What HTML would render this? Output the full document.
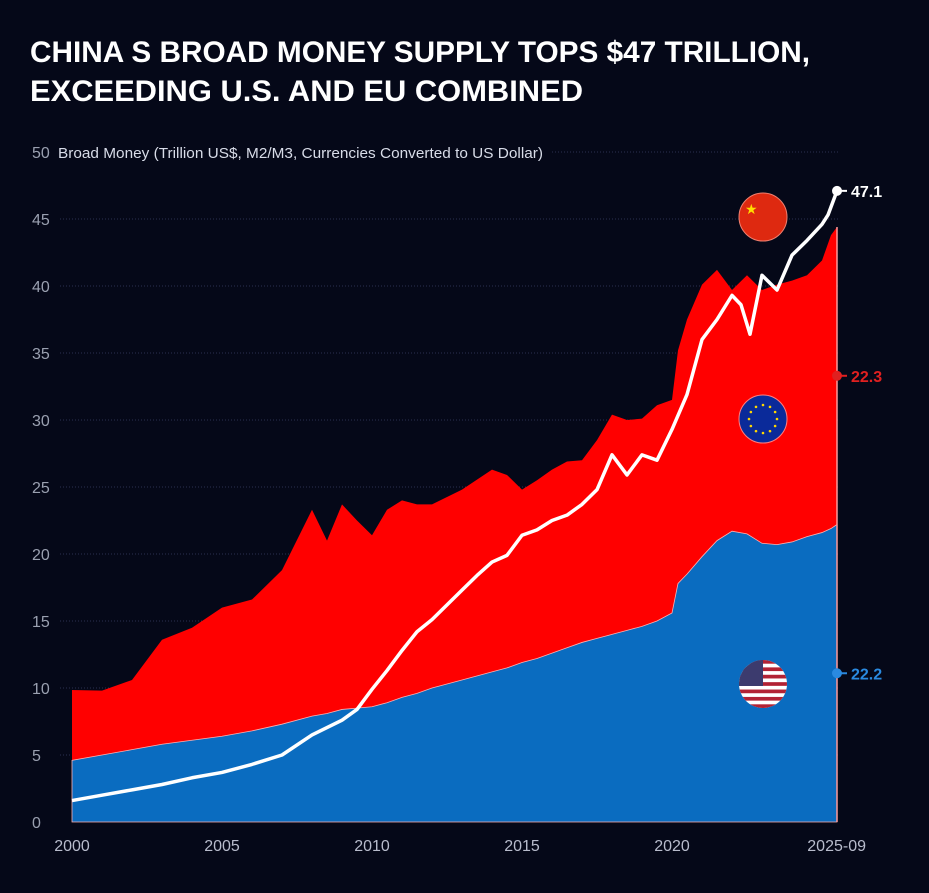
<!DOCTYPE html>
<html><head><meta charset="utf-8"><style>
html,body{margin:0;padding:0;background:#050818;}
svg{display:block;font-family:"Liberation Sans",sans-serif;}
</style></head><body>
<svg id="chart" width="929" height="893" viewBox="0 0 929 893">
<rect width="929" height="893" fill="#050818"/>
<text x="30" y="62" fill="#fff" font-size="30" font-weight="bold" textLength="780" lengthAdjust="spacingAndGlyphs">CHINA S BROAD MONEY SUPPLY TOPS $47 TRILLION,</text>
<text x="30" y="101" fill="#fff" font-size="30" font-weight="bold" textLength="553" lengthAdjust="spacingAndGlyphs">EXCEEDING U.S. AND EU COMBINED</text>
<g id="grid"></g><g id="areas"></g><g id="yt"></g><g id="xt"></g><g id="flags"></g><g id="marks"></g>
</svg>
<script>
const years=[2000,2001,2002,2003,2004,2005,2006,2007,2008,2008.5,2009,2009.5,2010,2010.5,2011,2011.5,2012,2013,2014,2014.5,2015,2015.5,2016,2016.5,2017,2017.5,2018,2018.5,2019,2019.5,2020,2020.2,2020.5,2021,2021.5,2022,2022.5,2023,2023.5,2024,2024.5,2025,2025.3,2025.5];
const usValues=[4.6,5.0,5.4,5.8,6.1,6.4,6.8,7.3,7.9,8.1,8.4,8.5,8.6,8.9,9.3,9.6,10.0,10.6,11.2,11.5,11.9,12.2,12.6,13.0,13.4,13.7,14.0,14.3,14.6,15.0,15.6,17.8,18.5,19.8,21.0,21.7,21.5,20.8,20.7,20.9,21.3,21.6,21.9,22.2];
const totalValues=[9.85,9.8,10.6,13.6,14.5,16,16.6,18.8,23.3,21,23.7,22.5,21.4,23.3,24,23.7,23.7,24.8,26.3,25.9,24.8,25.5,26.3,26.9,27,28.5,30.4,30,30.1,31.1,31.5,35.2,37.5,40.1,41.2,39.7,40.8,39.7,40.1,40.4,40.8,41.9,43.8,44.4];
const chinaYears=[2000,2001,2002,2003,2004,2005,2006,2007,2008,2009,2009.5,2010,2010.5,2011,2011.5,2012,2012.5,2013,2013.5,2014,2014.5,2015,2015.5,2016,2016.5,2017,2017.5,2018,2018.5,2019,2019.5,2020,2020.5,2021,2021.5,2022,2022.3,2022.6,2023,2023.5,2024,2024.5,2025,2025.2,2025.5];
const chinaValues=[1.6,2.0,2.4,2.8,3.3,3.7,4.3,5.0,6.5,7.6,8.4,9.9,11.3,12.8,14.2,15.1,16.2,17.3,18.4,19.4,19.9,21.4,21.8,22.5,22.9,23.7,24.8,27.4,25.9,27.4,27.0,29.3,31.9,36,37.5,39.3,38.6,36.4,40.8,39.7,42.3,43.4,44.6,45.3,47.1];
const yTicks=[0,5,10,15,20,25,30,35,40,45,50];
const xTickVals=[2000,2005,2010,2015,2020,2025.67];
const xTickLabels=["2000","2005","2010","2015","2020","2025-09"];
const endLabels=["47.1","22.3","22.2"];

const X=t=>72+30*(t-2000);
const Y=v=>822-13.4*v;
const NS="http://www.w3.org/2000/svg";
function mk(tag,attrs,parent){const e=document.createElementNS(NS,tag);for(const k in attrs)e.setAttribute(k,attrs[k]);document.getElementById(parent).appendChild(e);return e;}

yTicks.forEach((v,i)=>{
  if(v>0&&v<50){const g=mk('line',{x1:60,x2:838,y1:Y(v),y2:Y(v),stroke:'#2a3050','stroke-dasharray':'1 2'},'grid');
  
  }
  const t=mk('text',{x:32,y:Y(v)+6,fill:'#9aa0b0','font-size':16},'yt');t.textContent=v;
  
  
});
const h=mk('text',{x:58,y:Y(50)+6,fill:'#d8dce8','font-size':15,textLength:485,lengthAdjust:'spacingAndGlyphs'},'yt');h.textContent='Broad Money (Trillion US$, M2/M3, Currencies Converted to US Dollar)';


mk('line',{x1:552,x2:838,y1:Y(50),y2:Y(50),stroke:'#2a3050','stroke-dasharray':'1 2'},'grid');

xTickVals.forEach((v,i)=>{
  const t=mk('text',{x:X(v),y:851,fill:'#b8bccc','font-size':16,'text-anchor':i==5?'end':'middle'},'xt');
  if(i==5)t.setAttribute('x',866);
  t.textContent=xTickLabels[i];
  
  
});

const last=years[years.length-1];
let eu='M'+X(years[0])+','+Y(0);
years.forEach((t,i)=>eu+=' L'+X(t)+','+Y(totalValues[i]));
eu+=' L'+X(last)+','+Y(0)+'Z';
const ea=mk('path',{d:eu,fill:'#ff0000'},'areas');


let us='M'+X(years[0])+','+Y(0);
years.forEach((t,i)=>us+=' L'+X(t)+','+Y(usValues[i]));
us+=' L'+X(last)+','+Y(0)+'Z';
const ua=mk('path',{d:us,fill:'#0a6cc0',stroke:'#ffb0b0','stroke-width':0.8},'areas');


const edge=mk('line',{x1:X(last),x2:X(last),y1:Y(totalValues[totalValues.length-1]),y2:Y(0),stroke:'#ff9a9a','stroke-width':1.5},'areas');



let cp='';
chinaYears.forEach((t,i)=>cp+=(i?' L':'M')+X(t)+','+Y(chinaValues[i]));
const cl=mk('path',{d:cp,fill:'none',stroke:'#fff','stroke-width':3.5,'stroke-linejoin':'round'},'marks');



const ex=X(chinaYears[chinaYears.length-1]);
const ends=[[chinaValues[chinaValues.length-1],'#fff','china'],[totalValues[totalValues.length-1]/2+usValues[usValues.length-1]/2,'#e02020','eu'],[usValues[usValues.length-1]/2,'#2a8ae0','us']];
ends.forEach((e,i)=>{
  const yy=Y(e[0]);
  const c=mk('circle',{cx:ex,cy:yy,r:5,fill:e[1]},'marks');
  
  
  mk('line',{x1:ex,x2:ex+10,y1:yy,y2:yy,stroke:e[1],'stroke-width':2},'marks');
  const t=mk('text',{x:ex+14,y:yy+6,fill:e[1],'font-size':16,'font-weight':'bold'},'marks');
  t.textContent=endLabels[i];
  
  
});

const fc=mk('circle',{cx:763,cy:217,r:24,fill:'#de2910',stroke:'#f08070','stroke-width':1},'flags');


const st=mk('text',{x:745,y:214,fill:'#ffde00','font-size':14},'flags');st.textContent='★';
const ef=mk('circle',{cx:763,cy:419,r:24,fill:'#0a2a9a',stroke:'#ff8080','stroke-width':1},'flags');


for(let k=0;k<12;k++){const a=k*Math.PI/6;mk('circle',{cx:763+14*Math.cos(a),cy:419+14*Math.sin(a),r:1.3,fill:'#ffd700'},'flags');}
const uf=mk('circle',{cx:763,cy:684,r:24,fill:'#fff'},'flags');


mk('clipPath',{id:'uc'},'flags');
const cc=document.createElementNS(NS,'circle');cc.setAttribute('cx',763);cc.setAttribute('cy',684);cc.setAttribute('r',24);
document.getElementById('uc').appendChild(cc);
for(let k=0;k<7;k++){mk('rect',{x:739,y:660+k*48/6.5,width:48,height:3.7,fill:'#b22234','clip-path':'url(#uc)'},'flags');}
mk('rect',{x:739,y:660,width:24,height:26,fill:'#3c3b6e','clip-path':'url(#uc)'},'flags');
</script>
</body></html>
